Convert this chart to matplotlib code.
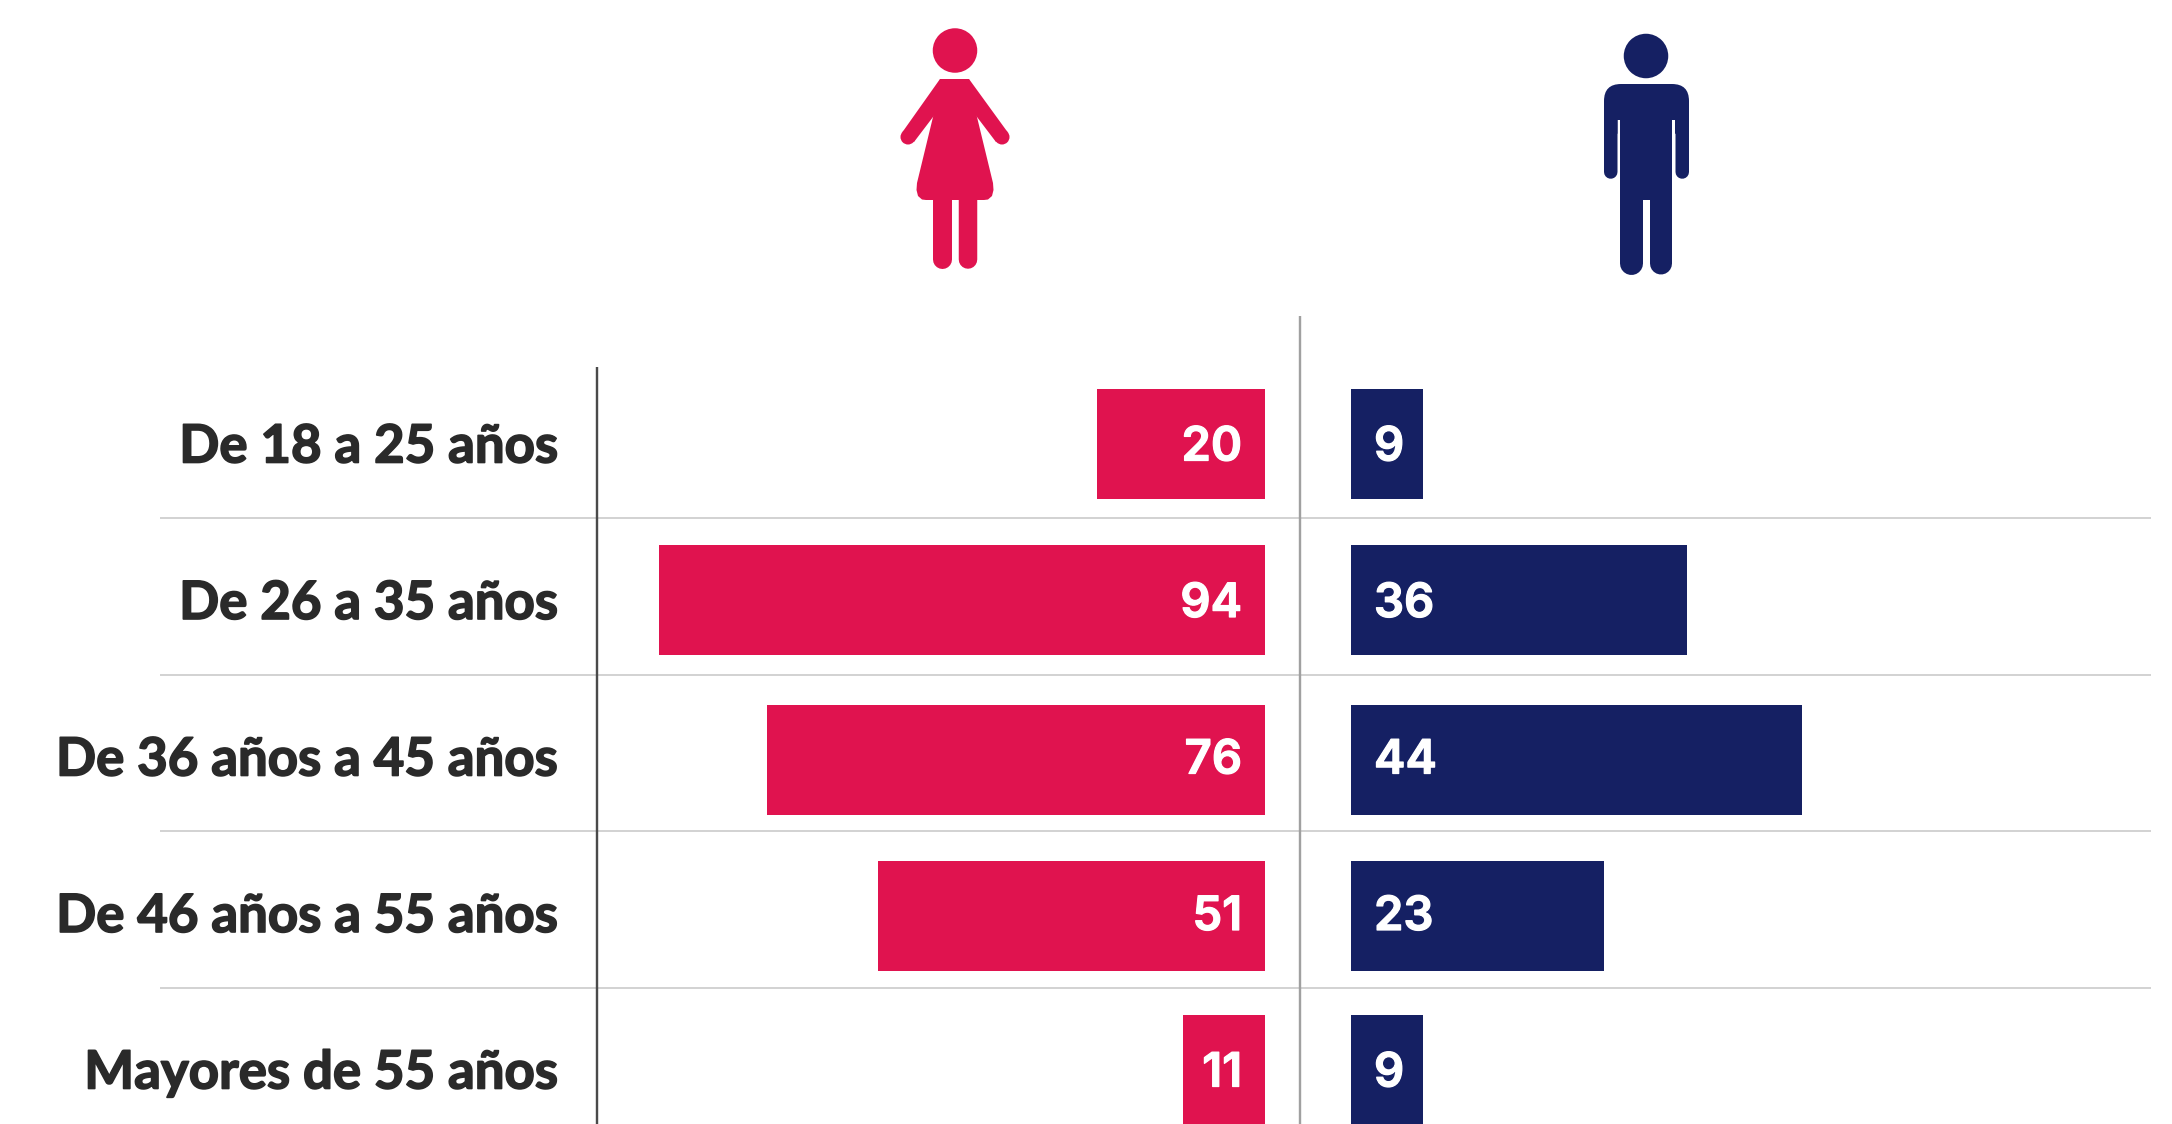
import matplotlib
matplotlib.use('Agg')
import matplotlib.pyplot as plt
import matplotlib.patheffects as pe
from matplotlib.patches import Ellipse, FancyBboxPatch, Polygon, Rectangle

categories = ['De 18 a 25 años', 'De 26 a 35 años', 'De 36 años a 45 años',
              'De 46 años a 55 años', 'Mayores de 55 años']
women_labels = [20, 94, 76, 51, 11]
men_labels = [9, 36, 44, 23, 9]
# the printed numbers are not proportional to the bars, so lengths are read separately
women_bar = [168, 606, 498, 387, 82]
men_bar = [72, 336, 451, 253, 72]

PINK = '#E0134F'
NAVY = '#152063'
INK = '#2A2A2A'
W, H = 2172, 1124
DPI = 100
PX = 72 / DPI

ROW_Y = [444, 599.5, 759.5, 916, 1070]
LABEL_Y = [442.5, 599, 755.5, 912, 1068.5]
BAR_H = 110
WOMEN_BASE = 1265
MEN_BASE = 1351
GRID_Y = [518, 675, 831, 988]

plt.rcParams['font.family'] = ['Lato', 'DejaVu Sans']

fig = plt.figure(figsize=(W / DPI, H / DPI), dpi=DPI)
ax = fig.add_axes([0, 0, 1, 1])
ax.set_xlim(0, W)
ax.set_ylim(H, 0)
ax.axis('off')

ax.hlines(GRID_Y, 160, 2151, color='#C9C9C9', lw=1.6 * PX, zorder=1)
ax.vlines(597, 367, H, color='#4A4A4A', lw=2.4 * PX, zorder=2)
ax.vlines(1300, 316, H, color='#A0A0A0', lw=2.4 * PX, zorder=2)

ax.barh(ROW_Y, [-v for v in women_bar], left=WOMEN_BASE, height=BAR_H, color=PINK, zorder=3)
ax.barh(ROW_Y, men_bar, left=MEN_BASE, height=BAR_H, color=NAVY, zorder=3)

bold_ink = [pe.withStroke(linewidth=1.2, foreground=INK)]
bold_white = [pe.withStroke(linewidth=0.9, foreground='white')]
for y, cat, a, b in zip(LABEL_Y, categories, women_labels, men_labels):
    ax.text(558, y, cat, ha='right', va='center_baseline', fontsize=38, fontweight='bold',
            color=INK, path_effects=bold_ink)
    ax.text(1242, y + 1, str(a), ha='right', va='center_baseline', fontsize=34, fontweight='semibold',
            family='Inter', color='white', zorder=4, path_effects=bold_white)
    ax.text(1374, y + 1, str(b), ha='left', va='center_baseline', fontsize=34, fontweight='semibold',
            family='Inter', color='white', zorder=4, path_effects=bold_white)


def limb(x0, y0, x1, y1, width, color):
    ax.plot([x0, x1], [y0, y1], color=color, lw=width * PX, solid_capstyle='round', zorder=3, snap=False)


def blob(points, color):
    ax.add_patch(Polygon(points, closed=True, color=color, lw=0, snap=False))


def dot(x, y, size, color):
    ax.add_patch(Ellipse((x, y), size, size, color=color, lw=0))


# woman pictogram
dot(955, 50.5, 44.5, PINK)
blob([(940, 79), (969, 79), (977, 117), (993, 183), (993.5, 190), (992, 196), (988, 199.5), (984, 200),
      (926, 200), (922, 199.5), (918, 196), (916.5, 190), (917, 183), (933, 117)], PINK)
blob([(940, 79), (902.5, 132), (914, 142), (933, 117), (945, 100)], PINK)
blob([(969, 79), (1007.5, 132), (996, 142), (977, 117), (965, 100)], PINK)
dot(908, 137, 15, PINK)
dot(1002, 137, 15, PINK)
limb(942.5, 195, 942.5, 259.5, 19, PINK)
limb(968, 195, 968, 259.5, 18.5, PINK)

# man pictogram
dot(1646, 56, 44.5, NAVY)
ax.add_patch(FancyBboxPatch((1604, 84), 85, 50, boxstyle='round,pad=0,rounding_size=17',
                            color=NAVY, lw=0, snap=False))
ax.add_patch(Rectangle((1617.5, 120), 57.5, 20, color='white', lw=0, snap=False))
ax.add_patch(Rectangle((1620, 100), 52, 100, color=NAVY, lw=0, snap=False, zorder=2))
limb(1610.75, 110, 1610.75, 172, 13.5, NAVY)
limb(1682.25, 110, 1682.25, 172, 13.5, NAVY)
limb(1631.5, 190, 1631.5, 263.5, 23, NAVY)
limb(1661, 190, 1661, 263.5, 22, NAVY)

fig.savefig('out.png', dpi=DPI, facecolor='white')
